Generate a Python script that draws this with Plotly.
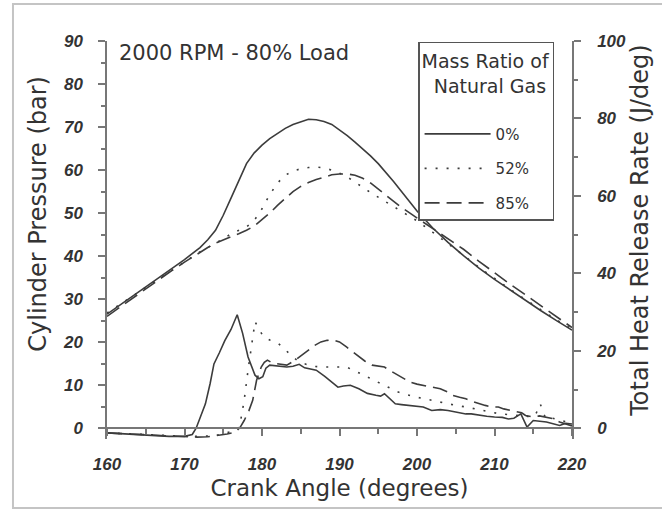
import plotly.graph_objects as go

# ---------------- data ----------------
crank_pressure = [160, 162, 164, 166, 168, 170, 172, 173, 174, 175, 176, 177, 178, 179, 180,
                  181, 182, 183, 184, 185, 186, 187, 188, 189, 190, 191, 192, 193, 194, 195,
                  196, 197, 198, 199, 200, 202, 204, 206, 208, 210, 212, 214, 216, 218, 220]

pressure_0 = [26.5, 29.0, 31.5, 34.0, 36.6, 39.2, 42.0, 43.8, 46.0, 49.5, 53.5, 57.5, 61.5, 64.0, 65.8,
              67.3, 68.6, 69.7, 70.6, 71.2, 71.8, 71.7, 71.3, 70.6, 69.4, 68.0, 66.5, 65.0, 63.3, 61.5,
              59.5, 57.3, 55.0, 52.8, 50.5, 46.6, 43.2, 40.1, 37.2, 34.6, 32.1, 29.7, 27.3, 25.0, 22.8]

pressure_52 = [26.8, 29.2, 31.6, 34.0, 36.4, 38.8, 41.0, 42.0, 43.0, 44.0, 45.2, 46.0, 46.8, 48.3, 51.0,
               54.3, 57.0, 58.8, 59.8, 60.3, 60.6, 60.7, 60.5, 60.0, 59.3, 58.4, 57.3, 56.0, 54.8, 53.7,
               52.7, 51.6, 50.5, 49.4, 48.2, 45.6, 43.0, 40.2, 37.4, 34.8, 32.3, 29.9, 27.5, 25.2, 23.0]

pressure_85 = [26.0, 28.6, 31.2, 33.7, 36.2, 38.6, 41.0, 42.0, 43.0, 43.8, 44.5, 45.2, 46.0, 47.0, 48.4,
               50.0, 51.8, 53.5, 55.0, 56.2, 57.1, 57.8, 58.4, 58.9, 59.1, 59.1, 58.8, 58.1, 57.0, 55.6,
               54.0, 52.6, 51.3, 50.1, 48.9, 46.6, 44.2, 41.6, 38.8, 36.1, 33.5, 31.0, 28.5, 26.0, 23.4]

crank_hrr_0 = [160, 162, 164, 166, 168, 170, 171, 171.5, 172, 172.7, 173.3, 173.8, 174.5, 175.2, 176,
               176.8, 177.5, 178.2, 179.1, 179.6, 180.1, 180.5, 181, 182, 183.2, 184, 184.8, 185.5, 186,
               187, 188.1, 189, 189.8, 190.5, 191.4, 192.5, 193.6, 194.7, 195.3, 195.8, 196.5, 197.2,
               198, 199.1, 200.8, 201.9, 203, 204, 205, 206.3, 207, 208, 209, 210, 211, 211.8, 212.5,
               213.4, 214.2, 215, 216.7, 218.4, 219.2, 220]
hrr_0 = [-1.2, -1.4, -1.6, -1.9, -2.1, -2.1, -1.6, 0.0, 2.5, 6.3, 11.5, 16.6, 19.5, 22.6, 25.5,
         29.3, 24.5, 18.4, 13.7, 12.8, 13.3, 15.5, 16.3, 16.0, 15.8, 16.0, 16.5, 15.6, 15.4,
         15.0, 13.4, 11.8, 10.6, 10.9, 11.1, 10.2, 9.0, 8.5, 8.3, 8.9, 7.6, 6.3,
         6.1, 5.9, 5.5, 4.6, 4.8, 4.6, 4.2, 3.7, 3.7, 3.3, 3.1, 2.9, 2.8, 2.4, 2.6,
         3.7, 0.3, 2.0, 1.6, 0.7, 1.3, 1.1]

crank_hrr_52 = [160, 163, 166, 169, 172, 174, 175.5, 176.5, 177.1, 177.7, 178.2, 178.7, 179.1, 179.5,
                180.2, 181, 182.1, 183, 183.7, 184.5, 185.4, 186.5, 188.1, 190, 190.9, 192, 193.1,
                194.2, 195.3, 196.5, 197.5, 198.5, 199.7, 201, 201.9, 203, 204, 205, 206.3, 207.5,
                208.5, 209.5, 210.7, 212, 212.9, 213.5, 214.5, 215.3, 215.9, 216.4, 216.7, 217.5,
                218.4, 219, 219.7, 220]
hrr_52 = [-1.2, -1.4, -1.7, -2.0, -2.1, -1.9, -1.2, -0.6, 0.3, 7.2, 15.0, 21.9, 27.5, 26.0,
          23.6, 22.8, 21.9, 20.3, 18.9, 17.6, 16.7, 16.0, 15.8, 15.8, 15.8, 14.8, 13.7,
          12.6, 11.5, 10.4, 9.4, 8.8, 8.1, 7.6, 7.2, 6.8, 6.3, 5.9, 5.5, 5.0,
          4.6, 4.2, 3.7, 3.5, 3.3, 3.6, 2.9, 3.5, 6.3, 3.5, 2.4, 2.6,
          2.0, 1.8, 1.1, 1.0]

crank_hrr_85 = [160, 163, 166, 169, 171.6, 173, 174.4, 175.5, 176.6, 177.2, 177.7, 178.3, 178.8,
                179.3, 179.9, 180.3, 180.7, 181.2, 181.8, 182.5, 183.2, 184.3, 185.1, 185.9, 186.8,
                187.6, 188.4, 189.2, 190, 190.9, 191.7, 192.5, 193.3, 194.2, 195, 195.8, 196.6,
                197.5, 198.3, 199.1, 200, 200.8, 202, 203, 204, 204.6, 205.5, 206.3, 207, 208,
                208.8, 209.6, 210.5, 211.2, 212, 212.9, 213.5, 214, 215, 215.8, 216.7, 217.5,
                218.4, 219, 219.7, 220]
hrr_85 = [-1.2, -1.5, -1.8, -2.1, -2.3, -2.2, -1.9, -1.5, -1.0, 0.3, 2.0, 4.5, 7.2,
          12.4, 15.8, 17.0, 17.6, 17.0, 16.7, 16.5, 16.3, 17.6, 18.8, 20.2, 21.4,
          22.3, 22.7, 22.8, 22.3, 21.0, 19.7, 18.4, 17.3, 16.3, 16.0, 15.8, 14.8,
          13.7, 12.7, 11.9, 11.4, 11.1, 10.6, 10.2, 9.3, 8.5, 8.0, 7.6, 7.0, 6.3,
          5.9, 5.5, 5.5, 5.0, 4.6, 4.2, 4.0, 3.3, 2.9, 3.2, 2.9, 2.5,
          1.6, 1.2, 0.7, 0.6]

series_names = ["0%", "52%", "85%"]
x_ticks = [160, 170, 180, 190, 200, 210, 220]
y_ticks = [0, 10, 20, 30, 40, 50, 60, 70, 80, 90]
y2_ticks = [0, 20, 40, 60, 80, 100]

# ---------------- styles ----------------
LINE_COLOR = "#3c3c3c"
AXIS_COLOR = "#777777"
TEXT_COLOR = "#333333"
dashes = ["solid", "2px,9px", "15px,7px"]
tick_font = dict(family="Liberation Sans", size=17, color=TEXT_COLOR, style="italic", weight="bold")
text_font = "DejaVu Sans"

fig = go.Figure()

pressures = [pressure_0, pressure_52, pressure_85]
hrr_x = [crank_hrr_0, crank_hrr_52, crank_hrr_85]
hrr_y = [hrr_0, hrr_52, hrr_85]

for i, name in enumerate(series_names):
    fig.add_trace(go.Scatter(
        x=crank_pressure, y=pressures[i], mode="lines", name=name,
        legendgroup=name,
        line=dict(color=LINE_COLOR, width=1.6, dash=dashes[i]),
        yaxis="y",
    ))
for i, name in enumerate(series_names):
    fig.add_trace(go.Scatter(
        x=hrr_x[i], y=hrr_y[i], mode="lines", name=name,
        legendgroup=name, showlegend=False,
        line=dict(color=LINE_COLOR, width=1.6, dash=dashes[i]),
        yaxis="y2",
    ))

y_low = -2.5
axis_common = dict(
    showline=True, linecolor=AXIS_COLOR, linewidth=1.5,
    ticks="outside", ticklen=7, tickwidth=1.5, tickcolor=AXIS_COLOR,
    tickfont=tick_font, showgrid=False, zeroline=False,
)
fig.update_layout(
    width=662, height=517,
    margin=dict(l=107, r=90, t=41, b=78, autoexpand=False),
    paper_bgcolor="white", plot_bgcolor="white",
    font=dict(family=text_font, color=TEXT_COLOR),
    xaxis=dict(
        range=[160, 220], anchor="free", position=-y_low / (90 - y_low),
        tickvals=x_ticks, ticklabelstandoff=14,
        minor=dict(dtick=5, tick0=160, ticks="outside", ticklen=5, tickwidth=1.5, tickcolor=AXIS_COLOR),
        title=dict(text="Crank Angle (degrees)", font=dict(family=text_font, size=23, color=TEXT_COLOR), standoff=6),
        **axis_common,
    ),
    yaxis=dict(
        range=[y_low, 90], tickvals=y_ticks, ticklabelstandoff=12,
        minor=dict(dtick=5, tick0=0, ticks="outside", ticklen=4, tickwidth=1.5, tickcolor=AXIS_COLOR),
        **axis_common,
    ),
    yaxis2=dict(
        range=[y_low * 100 / 90, 100], overlaying="y", side="right", anchor="x",
        tickvals=y2_ticks, ticklabelstandoff=13,
        minor=dict(dtick=10, tick0=0, ticks="outside", ticklen=4, tickwidth=1.5, tickcolor=AXIS_COLOR),
        **axis_common,
    ),
    legend=dict(
        x=0.669, y=0.9975, xanchor="left", yanchor="top",
        bgcolor="white", bordercolor="#555555", borderwidth=1.5,
        font=dict(family=text_font, size=15, color=TEXT_COLOR),
        title=dict(text="Mass Ratio of<br>&nbsp;&nbsp;Natural Gas<br>&nbsp;", side="top",
                   font=dict(family=text_font, size=19, color=TEXT_COLOR)),
        itemwidth=66, tracegroupgap=12, traceorder="grouped",
    ),
    annotations=[
        dict(text="2000 RPM - 80% Load", xref="paper", yref="paper", x=0.0215, y=0.97,
             xanchor="left", yanchor="middle", showarrow=False,
             font=dict(family=text_font, size=21, color=TEXT_COLOR)),
        dict(text="Cylinder Pressure (bar)", xref="paper", yref="paper", x=-0.1484, y=0.566,
             xanchor="center", yanchor="middle", textangle=-90, showarrow=False,
             font=dict(family=text_font, size=24, color=TEXT_COLOR)),
        dict(text="Total Heat Release Rate (J/deg)", xref="paper", yref="paper", x=1.146, y=0.523,
             xanchor="center", yanchor="middle", textangle=-90, showarrow=False,
             font=dict(family=text_font, size=24, color=TEXT_COLOR)),
    ],
    shapes=[dict(
        type="rect", xref="paper", yref="paper", x0=-0.2022, x1=1.2, y0=-0.1734, y1=1.093,
        line=dict(color="#c4c4c4", width=2), fillcolor="rgba(0,0,0,0)", layer="below",
    )],
)

fig.write_html("out.html", config={"displayModeBar": False},
               post_script="document.body.style.margin='0';document.body.style.overflow='hidden';")
